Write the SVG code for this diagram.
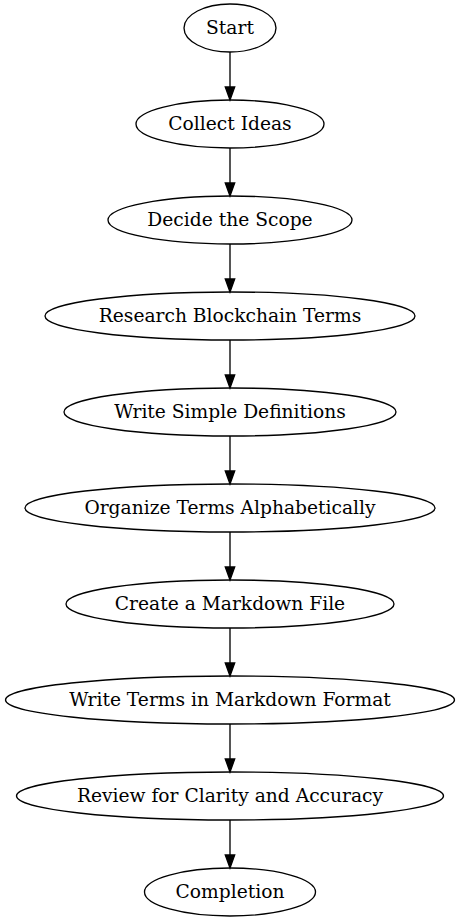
<svg xmlns="http://www.w3.org/2000/svg" width="460" height="923" viewBox="0 0 460 923">
<defs>
<style>
.node ellipse{fill:none;stroke:#000;stroke-width:1.33}
.node text{font-family:"DejaVu Serif",serif;font-size:18.67px;text-anchor:middle;fill:#000}
.edge line{stroke:#000;stroke-width:1.33}
.edge polygon{fill:#000;stroke:#000;stroke-width:1.33}
</style>
</defs>
<rect width="460" height="923" fill="#fff"/>
<g id="connectors" class="edge">
<line x1="230" y1="52" x2="230" y2="87"/><polygon points="225.3,87 230,100 234.7,87"/>
<line x1="230" y1="148" x2="230" y2="183"/><polygon points="225.3,183 230,196 234.7,183"/>
<line x1="230" y1="244" x2="230" y2="279"/><polygon points="225.3,279 230,292 234.7,279"/>
<line x1="230" y1="340" x2="230" y2="375"/><polygon points="225.3,375 230,388 234.7,375"/>
<line x1="230" y1="436" x2="230" y2="471"/><polygon points="225.3,471 230,484 234.7,471"/>
<line x1="230" y1="532" x2="230" y2="567"/><polygon points="225.3,567 230,580 234.7,567"/>
<line x1="230" y1="628" x2="230" y2="663"/><polygon points="225.3,663 230,676 234.7,663"/>
<line x1="230" y1="724" x2="230" y2="759"/><polygon points="225.3,759 230,772 234.7,759"/>
<line x1="230" y1="820" x2="230" y2="855"/><polygon points="225.3,855 230,868 234.7,855"/>
</g>
<g id="start" class="node"><ellipse cx="230" cy="28" rx="46" ry="24"/><text x="230" y="33.8">Start</text></g>
<g id="collect" class="node"><ellipse cx="230" cy="124" rx="94" ry="24"/><text x="230" y="129.8">Collect Ideas</text></g>
<g id="scope" class="node"><ellipse cx="230" cy="220" rx="122" ry="24"/><text x="230" y="225.8">Decide the Scope</text></g>
<g id="research" class="node"><ellipse cx="230" cy="316" rx="185" ry="24"/><text x="230" y="321.8">Research Blockchain Terms</text></g>
<g id="definitions" class="node"><ellipse cx="230" cy="412" rx="166" ry="24"/><text x="230" y="417.8">Write Simple Definitions</text></g>
<g id="organize" class="node"><ellipse cx="230" cy="508" rx="205" ry="24"/><text x="230" y="513.8">Organize Terms Alphabetically</text></g>
<g id="create" class="node"><ellipse cx="230" cy="604" rx="164" ry="24"/><text x="230" y="609.8">Create a Markdown File</text></g>
<g id="write" class="node"><ellipse cx="230" cy="700" rx="224.5" ry="24"/><text x="230" y="705.8">Write Terms in Markdown Format</text></g>
<g id="review" class="node"><ellipse cx="230" cy="796" rx="213.5" ry="24"/><text x="230" y="801.8">Review for Clarity and Accuracy</text></g>
<g id="completion" class="node"><ellipse cx="230" cy="892" rx="85.5" ry="24"/><text x="230" y="897.8">Completion</text></g>
</svg>
